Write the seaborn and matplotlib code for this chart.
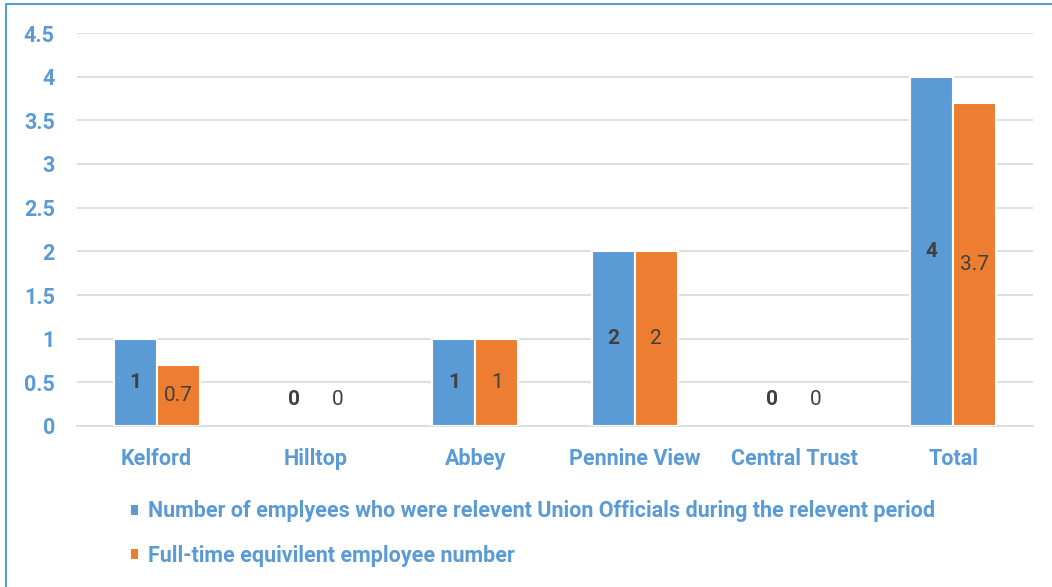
import pandas as pd
import matplotlib.pyplot as plt
import seaborn as sns
import numpy as np
from matplotlib.lines import Line2D
from matplotlib.patches import Patch

# chart data
sites = ['Kelford', 'Hilltop', 'Abbey', 'Pennine View', 'Central Trust', 'Total']
officials = [1, 0, 1, 2, 0, 4]
fte = [0.7, 0, 1, 2, 0, 3.7]
series_names = ['Number of emplyees who were relevent Union Officials during the relevent period',
                'Full-time equivilent employee number']
colors = ['#5B9BD5', '#ED7D31']

df = pd.DataFrame({
    'site': sites * 2,
    'value': officials + fte,
    'series': [series_names[0]] * len(sites) + [series_names[1]] * len(sites),
})

sns.set_style('white')
plt.rcParams['font.family'] = ['Roboto', 'DejaVu Sans']

blue = '#5B9BD5'
grid_c = '#D9D9D9'

fig = plt.figure(figsize=(10.52, 5.87), dpi=100)
ax = fig.add_axes([77 / 1052, 1 - 426 / 587, (1033 - 77) / 1052, (426 - 33) / 587])

sns.barplot(data=df, x='site', y='value', hue='series', palette=colors,
            width=0.54, edgecolor='white', linewidth=1.5, saturation=1,
            legend=False, ax=ax, zorder=3)

ax.set_ylim(0, 4.5)
ax.set_xlim(-0.5, len(sites) - 0.5)
ax.set_yticks(np.arange(0, 4.51, 0.5))
ax.set_yticklabels(['0', '0.5', '1', '1.5', '2', '2.5', '3', '3.5', '4', '4.5'])
ax.yaxis.grid(True, color=grid_c, linewidth=1.2, zorder=0)
ax.set_axisbelow(True)
for s in ['top', 'right', 'left']:
    ax.spines[s].set_visible(False)
ax.spines['bottom'].set_color(grid_c)
ax.spines['bottom'].set_linewidth(1.2)
ax.set_xlabel('')
ax.set_ylabel('')

ax.tick_params(axis='y', length=0, pad=16, labelsize=15.5, labelcolor=blue)
for lab in ax.get_yticklabels():
    lab.set_fontweight('bold')
ax.tick_params(axis='x', length=0, pad=16, labelsize=15.5, labelcolor=blue)
for lab in ax.get_xticklabels():
    lab.set_fontweight('bold')

# category boundary tick marks
ax.set_xticks(np.arange(-0.5, len(sites)), minor=True)
ax.tick_params(axis='x', which='minor', length=8, color=grid_c, width=1.2)

# data labels (and hide the white outline on zero-height bars)
for i, cont in enumerate(ax.containers):
    vals = officials if i == 0 else fte
    for bar, v in zip(cont, vals):
        if v == 0:
            bar.set_linewidth(0)
        x = bar.get_x() + bar.get_width() / 2
        y = v / 2 if v > 0 else 0.3
        ax.text(x, y, f'{v:g}', ha='center', va='center', fontsize=15,
                color='#404040', fontweight='bold' if i == 0 else 'normal', zorder=5)

# legend
handles = [Patch(facecolor=c, edgecolor='none') for c in colors]
leg = fig.legend(handles, series_names, loc='upper left', bbox_to_anchor=(112 / 1052, 1 - 481 / 587),
                 frameon=False, fontsize=15.5, handlelength=0.33, handleheight=0.33,
                 handletextpad=0.42, labelspacing=1.04)
for t in leg.get_texts():
    t.set_color(blue)
    t.set_fontweight('bold')

# outer border (left and top)
fig.add_artist(Line2D([6 / 1052, 6 / 1052], [0, 1 - 4 / 587], color=blue, linewidth=1.5))
fig.add_artist(Line2D([6 / 1052, 1], [1 - 4 / 587, 1 - 4 / 587], color=blue, linewidth=1.5))

fig.savefig('out.png', dpi=100)
